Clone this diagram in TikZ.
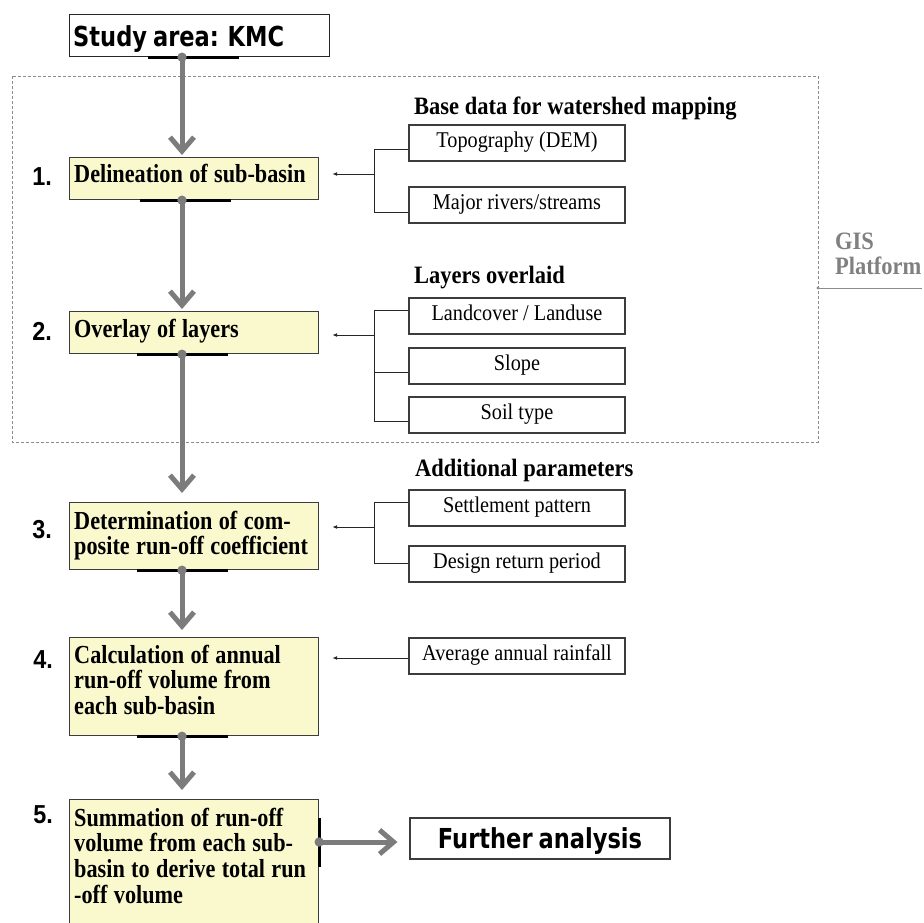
\documentclass[tikz,border=0pt]{standalone}
\usepackage{fontspec}
\setmainfont{Liberation Serif}[FakeStretch=0.9]
\newfontfamily\boxfont{Liberation Serif}[FakeStretch=0.855]
\newfontfamily\sansfam{Liberation Sans}[FakeStretch=0.9]
\newfontfamily\titlefont{DejaVu Sans}[FakeStretch=0.82]
\newcommand\boxspace{\spaceskip 6.4pt plus 1pt minus 1pt\relax}
\newcommand\titlespace{\spaceskip 6pt plus 1pt minus 1pt\relax}
\usetikzlibrary{arrows.meta}
\definecolor{boxfill}{RGB}{250,248,205}
\definecolor{flowgray}{RGB}{124,124,124}
\definecolor{edgecol}{RGB}{60,60,60}
\definecolor{dashgray}{RGB}{140,140,140}
\definecolor{gistext}{RGB}{128,128,128}
\begin{document}
\begin{tikzpicture}[x=1pt,y=-1pt,
  stepbox/.style={draw=edgecol, line width=1.2pt, fill=boxfill, inner sep=0pt, anchor=north west},
  inbox/.style={draw=edgecol, line width=1.2pt, fill=white, inner sep=0pt, minimum width=216pt, minimum height=36pt,
     text height=15pt, text depth=5.5pt, font=\fontsize{22.5}{24}\selectfont},
  boxtext/.style={anchor=base west, inner sep=0pt, align=left, text width=246pt,
     font=\boxfont\bfseries\fontsize{26}{25.8}\selectfont},
  numtext/.style={anchor=base east, inner sep=0pt, font=\sansfam\bfseries\fontsize{26}{26}\selectfont},
  headtext/.style={anchor=base west, inner sep=0pt, font=\bfseries\fontsize{25}{26}\selectfont},
  bar/.style={line width=2.6pt, black},
  flow/.style={line width=5pt, flowgray, {Circle[length=9pt]}-{Straight Barb[length=14pt,width=24pt]}, shorten <=-4.5pt},
  link/.style={line width=1pt, black!85},
  linkarrow/.style={link, -{Latex[length=5pt,width=4pt]}, shorten >=13pt},
]
\useasboundingbox (0,0) rectangle (924,922);
\clip (0,0) rectangle (924,922);

% GIS frame
\draw[dashgray, line width=1pt, dash pattern=on 3pt off 2pt] (12,76) rectangle (818,442);
\coordinate (gisdot) at (818,288);
\coordinate (gisend) at (922,288);
\draw[dashgray, line width=1pt] (gisdot) -- (gisend);
\fill[dashgray] (gisdot) circle (1.6pt);
\node[anchor=base west, inner sep=0pt, align=left, text=gistext, font=\bfseries\fontsize{25}{24.5}\selectfont] (gis) at (835,274) {GIS\\Platform};

% main boxes
\node[stepbox, fill=white, draw=black!85, minimum width=260pt, minimum height=42pt] (s0) at (69,14) {};
\node[stepbox, minimum width=249pt, minimum height=42pt] (b1) at (69,157) {};
\node[stepbox, minimum width=249pt, minimum height=42pt] (b2) at (69,311) {};
\node[stepbox, minimum width=249pt, minimum height=67pt] (b3) at (69,502) {};
\node[stepbox, minimum width=249pt, minimum height=98pt] (b4) at (69,637) {};
\node[stepbox, minimum width=249pt, minimum height=160pt] (b5) at (69,799) {};

\node[anchor=base west, inner sep=0pt, font=\titlefont\bfseries\fontsize{27.5}{30}\selectfont\titlespace] (s0t) at (73,46) {Study area: KMC};
\node[boxtext] (b1t) at (74,182) {\boxspace Delineation of sub-basin};
\node[boxtext] (b2t) at (74,337) {\boxspace Overlay of layers};
\node[boxtext] (b3t) at (74,529) {\boxspace Determination of com-\\posite run-off coefficient};
\node[boxtext] (b4t) at (74,663) {\boxspace Calculation of annual\\run-off volume from\\each sub-basin};
\node[boxtext] (b5t) at (74,826) {\boxspace Summation of run-off\\volume from each sub-\\basin to derive total run\\-off volume};

\node[numtext] (n1) at (52,185) {1.};
\node[numtext] (n2) at (52,340) {2.};
\node[numtext] (n3) at (52,538) {3.};
\node[numtext] (n4) at (53,668) {4.};
\node[numtext] (n5) at (53,823) {5.};

% bars
\draw[bar] ([xshift=79pt]s0.south west) -- ++(91,0);
\draw[bar] ([xshift=71pt]b1.south west) -- ++(91,0);
\draw[bar] ([xshift=68pt]b2.south west) -- ++(91,0);
\draw[bar] ([xshift=68pt]b3.south west) -- ++(91,0);
\draw[bar] ([xshift=68pt]b4.south west) -- ++(91,0);
\draw[bar] ([yshift=-19pt]b5.north east) -- ++(0,49);

% flow arrows
\draw[flow, shorten >=2pt] ([xshift=113pt]s0.south west) -- ([xshift=113pt]b1.north west);
\draw[flow, shorten >=2pt] ([xshift=113pt]b1.south west) -- ([xshift=113pt]b2.north west);
\draw[flow, shorten >=9pt] ([xshift=113pt]b2.south west) -- ([xshift=113pt]b3.north west);
\draw[flow, shorten >=7pt] ([xshift=113pt]b3.south west) -- ([xshift=113pt]b4.north west);
\draw[flow, shorten >=9pt] ([xshift=113pt]b4.south west) -- ([xshift=113pt]b5.north west);

% right side inputs
\node[headtext] (h1) at (414,114) {Base data for watershed mapping};
\node[inbox] (topo) at (517,143) {Topography (DEM)};
\node[inbox] (rivers) at (517,205) {Major rivers/streams};

\node[headtext] (h2) at (414,283) {Layers overlaid};
\node[inbox] (land) at (517,316) {Landcover / Landuse};
\node[inbox] (slope) at (517,366) {Slope};
\node[inbox] (soil) at (517,415) {Soil type};

\node[headtext] (h3) at (415,476) {Additional parameters};
\node[inbox] (settle) at (517,508) {Settlement pattern};
\node[inbox] (design) at (517,564) {Design return period};

\node[inbox] (rain) at (517,656) {Average annual rainfall};

\node[draw=edgecol, line width=1.2pt, fill=white, inner sep=0pt, minimum width=260pt, minimum height=41pt,
  text height=20pt, text depth=0pt, font=\titlefont\bfseries\fontsize{27.5}{30}\selectfont\titlespace] (further) at (540,838.5) {Further analysis};

% brackets
\draw[link] ([yshift=-6pt]topo.west) -- ++(-34,0) |- ([yshift=-7pt]rivers.west);
\coordinate (j1) at (375,174);
\draw[linkarrow] (j1) -- (j1 -| b1.east);

\draw[link] ([yshift=6pt]land.west) -- ++(-34,0) |- ([yshift=-6pt]soil.west);
\draw[link] ([yshift=-6pt]slope.west) -- ++(-34,0);
\coordinate (j2) at (375,335);
\draw[linkarrow] (j2) -- (j2 -| b2.east);

\draw[link] ([yshift=6pt]settle.west) -- ++(-34,0) |- ([yshift=1pt]design.west);
\coordinate (j3) at (375,527);
\draw[linkarrow] (j3) -- (j3 -| b3.east);

\draw[linkarrow] ([yshift=-2pt]rain.west) -- ([yshift=-2pt]rain.west -| b4.east);

% final arrow
\draw[flow, shorten >=12pt] ([yshift=-43pt]b5.north east) coordinate (a5s) -- (a5s -| further.west);
\end{tikzpicture}
\end{document}
